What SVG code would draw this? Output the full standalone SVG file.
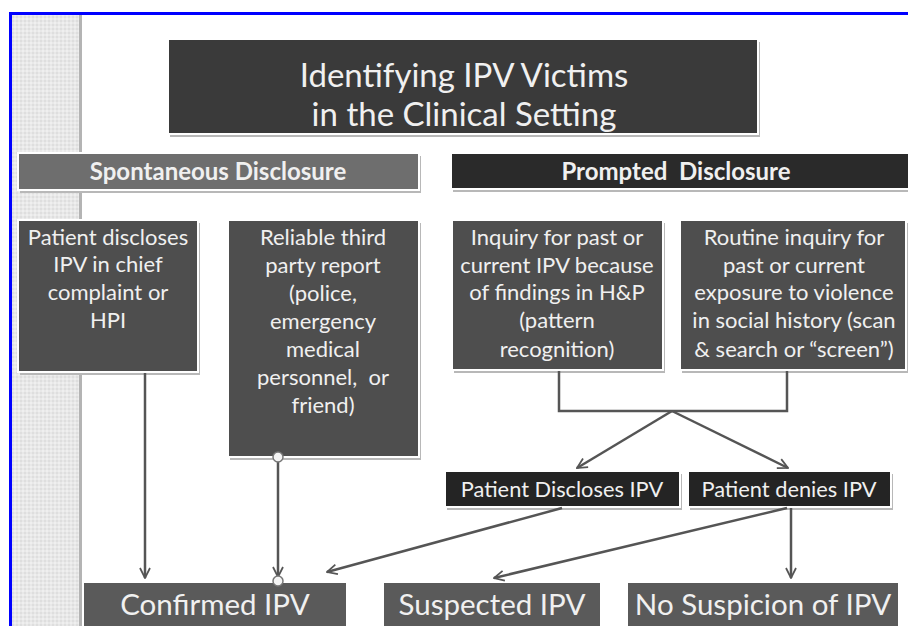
<svg xmlns="http://www.w3.org/2000/svg" width="908" height="626" viewBox="0 0 908 626">
<defs>
<style>
.t{font-family:Lato,"Open Sans","DejaVu Sans",sans-serif;fill:#f0f0f0;text-anchor:middle}
.hd{font-weight:bold;font-size:24px}
.bx{font-size:22px}
.sm{font-size:21.8px}
.big{font-size:29.5px}
.ttl{font-size:33px}
.shadow{fill:#b8b8b8}
.box{stroke:#ffffff;stroke-width:2}
.conn{stroke:#555555;stroke-width:2.5;fill:none}
</style>
<marker id="ah" viewBox="0 0 10 10" refX="9" refY="5" markerWidth="5" markerHeight="5" orient="auto" markerUnits="strokeWidth">
<path d="M1,1 L9,5 L1,9" fill="none" stroke="#555555" stroke-width="1.4"/>
</marker>
<pattern id="tex" width="4" height="4" patternUnits="userSpaceOnUse">
<rect width="4" height="4" fill="#e8e8e8"/>
<rect width="2" height="2" fill="#dedede"/>
<rect x="2" y="2" width="2" height="2" fill="#efefef"/>
</pattern>
</defs>
<rect width="908" height="626" fill="#ffffff"/>
<rect x="12" y="14" width="69" height="612" fill="url(#tex)"/>
<rect x="79" y="14" width="3" height="612" fill="#b4b4b4"/>
<path d="M10.5,626 L10.5,13.5 L908,13.5" fill="none" stroke="#0000ff" stroke-width="3"/>

<g id="title">
<rect class="shadow" x="170" y="42" width="590" height="95"/>
<rect class="box" x="168" y="39" width="590" height="95" fill="#3a3a3a"/>
<text class="t ttl" x="464" y="87">Identifying IPV Victims</text>
<text class="t ttl" x="464" y="126">in the Clinical Setting</text>
</g>

<g id="spontaneous">
<rect class="shadow" x="20" y="156" width="401" height="37"/>
<rect class="box" x="18" y="153" width="401" height="37" fill="#6e6e6e"/>
<text class="t hd" x="218" y="180">Spontaneous Disclosure</text>
</g>

<g id="prompted">
<rect class="shadow" x="453" y="156" width="460" height="36"/>
<rect class="box" x="451" y="153" width="460" height="36" fill="#2a2a2a"/>
<text class="t hd" x="676" y="180" xml:space="preserve">Prompted  Disclosure</text>
</g>

<g id="box1">
<rect class="shadow" x="20" y="223" width="180" height="152"/>
<rect class="box" x="18" y="220" width="180" height="152" fill="#4e4e4e"/>
<text class="t bx" x="108" y="245">Patient discloses</text>
<text class="t bx" x="108" y="272">IPV in chief</text>
<text class="t bx" x="108" y="300">complaint or</text>
<text class="t bx" x="108" y="328">HPI</text>
</g>

<g id="box2">
<rect class="shadow" x="230" y="223" width="191" height="237"/>
<rect class="box" x="228" y="220" width="191" height="237" fill="#4e4e4e"/>
<text class="t bx" x="323" y="245">Reliable third</text>
<text class="t bx" x="323" y="273">party report</text>
<text class="t bx" x="323" y="301">(police,</text>
<text class="t bx" x="323" y="329">emergency</text>
<text class="t bx" x="323" y="357">medical</text>
<text class="t bx" x="323" y="385" xml:space="preserve">personnel,  or</text>
<text class="t bx" x="323" y="413">friend)</text>
</g>

<g id="box3">
<rect class="shadow" x="454" y="223" width="211" height="150"/>
<rect class="box" x="452" y="220" width="211" height="150" fill="#4e4e4e"/>
<text class="t bx" x="557" y="245">Inquiry for past or</text>
<text class="t bx" x="557" y="273">current IPV because</text>
<text class="t bx" x="557" y="300">of findings in H&amp;P</text>
<text class="t bx" x="557" y="328">(pattern</text>
<text class="t bx" x="557" y="357">recognition)</text>
</g>

<g id="box4">
<rect class="shadow" x="682" y="223" width="226" height="150"/>
<rect class="box" x="680" y="220" width="226" height="150" fill="#4e4e4e"/>
<text class="t bx" x="794" y="245">Routine inquiry for</text>
<text class="t bx" x="794" y="273">past or current</text>
<text class="t bx" x="794" y="300">exposure to violence</text>
<text class="t bx" x="794" y="328">in social history (scan</text>
<text class="t bx" x="794" y="357">&amp; search or “screen”)</text>
</g>

<g id="discloses">
<rect class="shadow" x="447" y="474" width="235" height="36"/>
<rect class="box" x="445" y="471" width="235" height="36" fill="#242424"/>
<text class="t sm" x="562" y="497">Patient Discloses IPV</text>
</g>

<g id="denies">
<rect class="shadow" x="690" y="474" width="203" height="36"/>
<rect class="box" x="688" y="471" width="203" height="36" fill="#242424"/>
<text class="t sm" x="789" y="497">Patient denies IPV</text>
</g>

<g id="confirmed">
<rect class="box" x="83" y="582" width="264" height="50" fill="#5a5a5a"/>
<text class="t big" x="215" y="615">Confirmed IPV</text>
</g>

<g id="suspected">
<rect class="box" x="383" y="582" width="218" height="50" fill="#5a5a5a"/>
<text class="t big" x="492" y="615">Suspected IPV</text>
</g>

<g id="nosuspicion">
<rect class="box" x="627" y="582" width="272" height="50" fill="#5a5a5a"/>
<text class="t big" x="763" y="615">No Suspicion of IPV</text>
</g>

<g id="connectors">
<line class="conn" x1="145" y1="373" x2="145" y2="578" marker-end="url(#ah)"/>
<line class="conn" x1="278" y1="458" x2="278" y2="577" marker-end="url(#ah)"/>
<circle cx="278" cy="457" r="5" fill="#f4f4f4" stroke="#777777" stroke-width="1.5"/>
<circle cx="278" cy="581" r="5" fill="#f4f4f4" stroke="#777777" stroke-width="1.5"/>
<path class="conn" d="M559,371 L559,411 L787,411 L787,371"/>
<line class="conn" x1="672" y1="411" x2="577" y2="468" marker-end="url(#ah)"/>
<line class="conn" x1="672" y1="411" x2="788" y2="468" marker-end="url(#ah)"/>
<line class="conn" x1="562" y1="508" x2="327" y2="572" marker-end="url(#ah)"/>
<line class="conn" x1="787" y1="508" x2="494" y2="578" marker-end="url(#ah)"/>
<line class="conn" x1="791" y1="508" x2="791" y2="578" marker-end="url(#ah)"/>
</g>
</svg>
